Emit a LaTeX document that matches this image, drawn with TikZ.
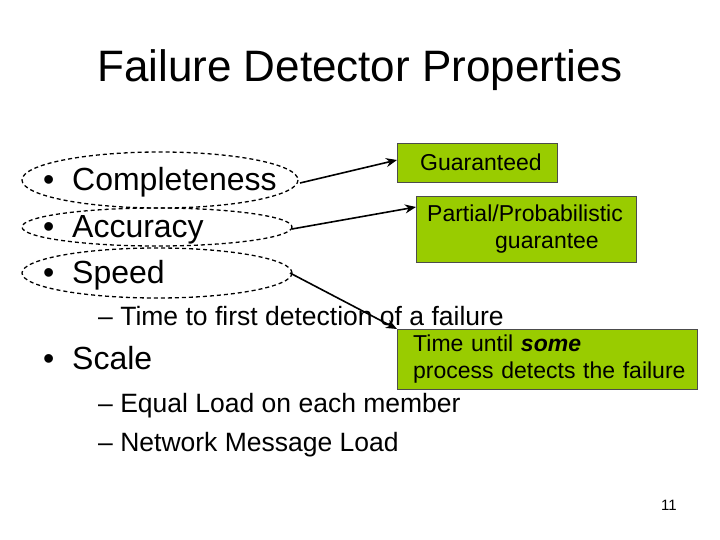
\documentclass[tikz,border=0pt]{standalone}
\usepackage{fontspec}
\setmainfont{Liberation Sans}
\usepackage{xcolor}
\usetikzlibrary{positioning,arrows.meta}
\definecolor{boxgreen}{RGB}{153,204,0}
\begin{document}
\begin{tikzpicture}[x=1pt,y=-1pt,
    item/.style={anchor=base west,inner sep=0pt,font=\fontsize{32}{36}\selectfont},
    subitem/.style={anchor=base west,inner sep=0pt,font=\fontsize{26.5}{30}\selectfont},
    note/.style={draw=black!70,fill=boxgreen,align=left,inner xsep=0pt,inner ysep=0pt,font=\fontsize{23}{27}\selectfont},
    ring/.style={draw,dash pattern=on 4pt off 3pt,line width=1.3pt},
    pointer/.style={line width=1.6pt,-{Stealth[length=11pt,width=9pt]}}]
  \useasboundingbox (0,0) rectangle (720,540);

  \node (title) at (360,70) {\fontsize{44}{50}\selectfont Failure Detector Properties};

  \node [item] (compl) at (43,191) {\textbullet\ \ Completeness};
  \node [item] (accur) at (43,237) {\textbullet\ \ Accuracy};
  \node [item] (speed) at (43,283) {\textbullet\ \ Speed};
  \node [subitem] (first) at (98,325) {-- Time to first detection of a failure};
  \node [item] (scale) at (43,369) {\textbullet\ \ Scale};
  \node [subitem] (equal) at (98,412) {-- Equal Load on each member};
  \node [subitem] (netw) at (98,451) {-- Network Message Load};

  \draw [ring] (160,180) ellipse [x radius=138,y radius=28];
  \draw [ring] (157,227) ellipse [x radius=135,y radius=19];
  \draw [ring] (157,273) ellipse [x radius=135,y radius=25];

  \node [note,minimum width=160,minimum height=39,anchor=north west,text width=160]
    (guar) at (397,143) {\hspace*{23pt}Guaranteed};
  \node [note,minimum width=220,minimum height=66,anchor=north west,text width=220]
    (part) at (416,196) {\hspace*{11pt}Partial/Probabilistic\\\hspace*{79pt}guarantee};
  \node [note,minimum width=300,minimum height=60,anchor=north west,text width=300]
    (some) at (397,329) {\hspace*{16pt}Time until \textbf{\textit{some}}\\\hspace*{16pt}process detects the failure};

  \coordinate (c1) at (300,183);
  \coordinate (c2) at (292,229);
  \coordinate (c3) at (290,273);
  \draw [pointer] (c1) -- (guar.west |- 0,160);
  \draw [pointer] (c2) -- (part.west |- 0,207);
  \draw [pointer] (c3) -- (some.north west);

  \node (page) at (669,505) {\fontsize{15}{17}\selectfont 11};
\end{tikzpicture}
\end{document}
